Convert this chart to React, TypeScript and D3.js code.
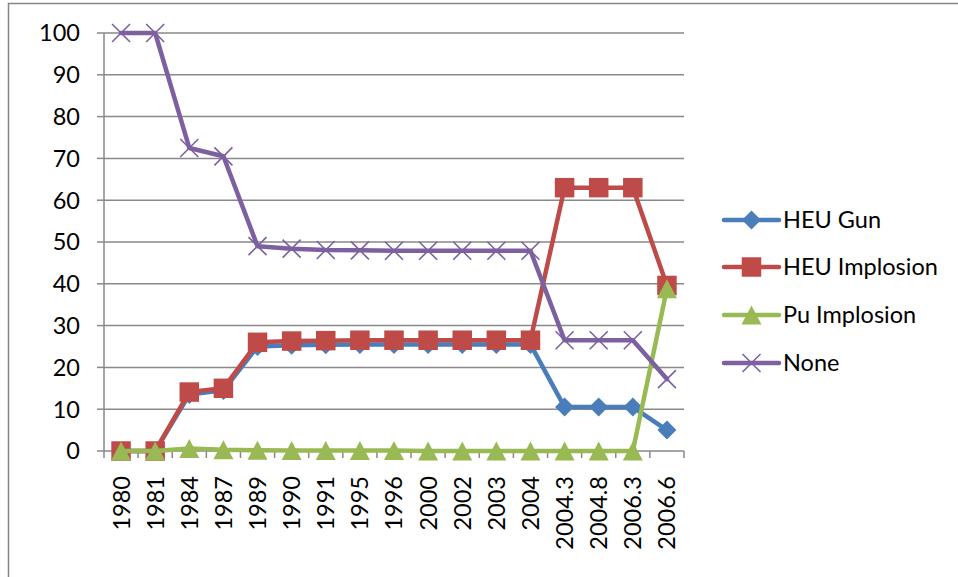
import React from "react";
import * as d3 from "d3";

const categories = ["1980", "1981", "1984", "1987", "1989", "1990", "1991", "1995", "1996", "2000", "2002", "2003", "2004", "2004.3", "2004.8", "2006.3", "2006.6"];
const heuGun = [0, 0, 13.5, 14.5, 25, 25.3, 25.4, 25.5, 25.5, 25.5, 25.5, 25.5, 25.5, 10.5, 10.5, 10.5, 5];
const heuImplosion = [0, 0, 14.1, 15, 26, 26.3, 26.4, 26.5, 26.5, 26.5, 26.5, 26.5, 26.5, 63, 63, 63, 39.6];
const puImplosion = [0, 0, 0.6, 0.3, 0.2, 0.1, 0.1, 0.1, 0.1, 0, 0, 0, 0, 0, 0, 0, 38.8];
const none = [100, 100, 72.5, 70.5, 49, 48.4, 48.1, 48, 47.9, 47.9, 47.9, 47.9, 47.9, 26.5, 26.5, 26.5, 17.2];
const yTicks = [0, 10, 20, 30, 40, 50, 60, 70, 80, 90, 100];

type Marker = "diamond" | "square" | "triangle" | "x";
const series: { name: string; values: number[]; color: string; marker: Marker }[] = [
  { name: "HEU Gun", values: heuGun, color: "#4A7EBB", marker: "diamond" },
  { name: "HEU Implosion", values: heuImplosion, color: "#BE4B48", marker: "square" },
  { name: "Pu Implosion", values: puImplosion, color: "#98B954", marker: "triangle" },
  { name: "None", values: none, color: "#7D60A0", marker: "x" },
];

const W = 958;
const H = 577;
const plot = { left: 104, right: 684, top: 33, bottom: 451 };
const FONT = "Lato, 'Open Sans', sans-serif";
const FONT_SIZE = 23.5;
const GRID = "#898989";

function MarkerShape({ kind, x, y, color }: { kind: Marker; x: number; y: number; color: string }) {
  if (kind === "diamond") {
    const r = 9.5;
    return <path d={`M${x},${y - r}L${x + r},${y}L${x},${y + r}L${x - r},${y}Z`} fill={color} />;
  }
  if (kind === "square") {
    const s = 19.5;
    return <rect x={x - s / 2} y={y - s / 2} width={s} height={s} fill={color} />;
  }
  if (kind === "triangle") {
    const w = 20, h = 19;
    return <path d={`M${x},${y - h / 2}L${x + w / 2},${y + h / 2}L${x - w / 2},${y + h / 2}Z`} fill={color} />;
  }
  const r = 9;
  return (
    <path
      d={`M${x - r},${y - r}L${x + r},${y + r}M${x - r},${y + r}L${x + r},${y - r}`}
      stroke={color}
      strokeWidth={1.6}
      fill="none"
    />
  );
}

export default function App() {
  const x = d3
    .scaleBand<string>()
    .domain(categories)
    .range([plot.left, plot.right]);
  const y = d3.scaleLinear().domain([0, 100]).range([plot.bottom, plot.top]);
  const cx = (c: string) => (x(c) as number) + x.bandwidth() / 2;

  const line = d3
    .line<number>()
    .x((_, i) => cx(categories[i]))
    .y((v) => y(v));

  const boundaries = categories.map((c) => x(c) as number).concat([plot.right]);

  const legendRows = [220, 267, 315, 363];

  return (
    <svg
      width={W}
      height={H}
      style={{ position: "absolute", left: 0, top: 0, background: "#fff" }}
      fontFamily={FONT}
    >
      {/* chart frame */}
      <path d={`M8.5,${H}V3.5H${W}`} stroke="#868686" strokeWidth={1.5} fill="none" />

      {/* horizontal gridlines and y ticks */}
      {yTicks.map((t) => (
        <g key={t}>
          {t > 0 && (
            <line x1={plot.left} x2={plot.right} y1={y(t)} y2={y(t)} stroke={GRID} strokeWidth={1.5} />
          )}
          <line x1={plot.left - 7} x2={plot.left} y1={y(t)} y2={y(t)} stroke={GRID} strokeWidth={1.5} />
          <text x={80} y={y(t)} dy="0.36em" textAnchor="end" fontSize={FONT_SIZE} fill="#000">
            {t}
          </text>
        </g>
      ))}

      {/* axes */}
      <line x1={plot.left} x2={plot.left} y1={plot.top} y2={plot.bottom} stroke={GRID} strokeWidth={1.5} />
      <line x1={plot.left} x2={plot.right} y1={plot.bottom} y2={plot.bottom} stroke={GRID} strokeWidth={1.5} />
      {boundaries.map((b, i) => (
        <line key={i} x1={b} x2={b} y1={plot.bottom} y2={plot.bottom + 7} stroke={GRID} strokeWidth={1.5} />
      ))}

      {/* category labels */}
      {categories.map((c) => (
        <text
          key={c}
          transform={`translate(${cx(c)},${plot.bottom + 25}) rotate(-90)`}
          textAnchor="end"
          dy="0.36em"
          fontSize={FONT_SIZE}
          fill="#000"
        >
          {c}
        </text>
      ))}

      {/* series */}
      {series.map((s) => (
        <g key={s.name}>
          <path d={line(s.values) as string} stroke={s.color} strokeWidth={4.5} fill="none" strokeLinejoin="round" strokeLinecap="round" />
          {s.values.map((v, i) => (
            <MarkerShape key={i} kind={s.marker} x={cx(categories[i])} y={y(v)} color={s.color} />
          ))}
        </g>
      ))}

      {/* legend */}
      {series.map((s, i) => (
        <g key={s.name}>
          <line x1={724} x2={779} y1={legendRows[i]} y2={legendRows[i]} stroke={s.color} strokeWidth={4.5} strokeLinecap="round" />
          <MarkerShape kind={s.marker} x={751.5} y={legendRows[i]} color={s.color} />
          <text x={783} y={legendRows[i]} dy="0.36em" fontSize={FONT_SIZE} fill="#000">
            {s.name}
          </text>
        </g>
      ))}
    </svg>
  );
}
